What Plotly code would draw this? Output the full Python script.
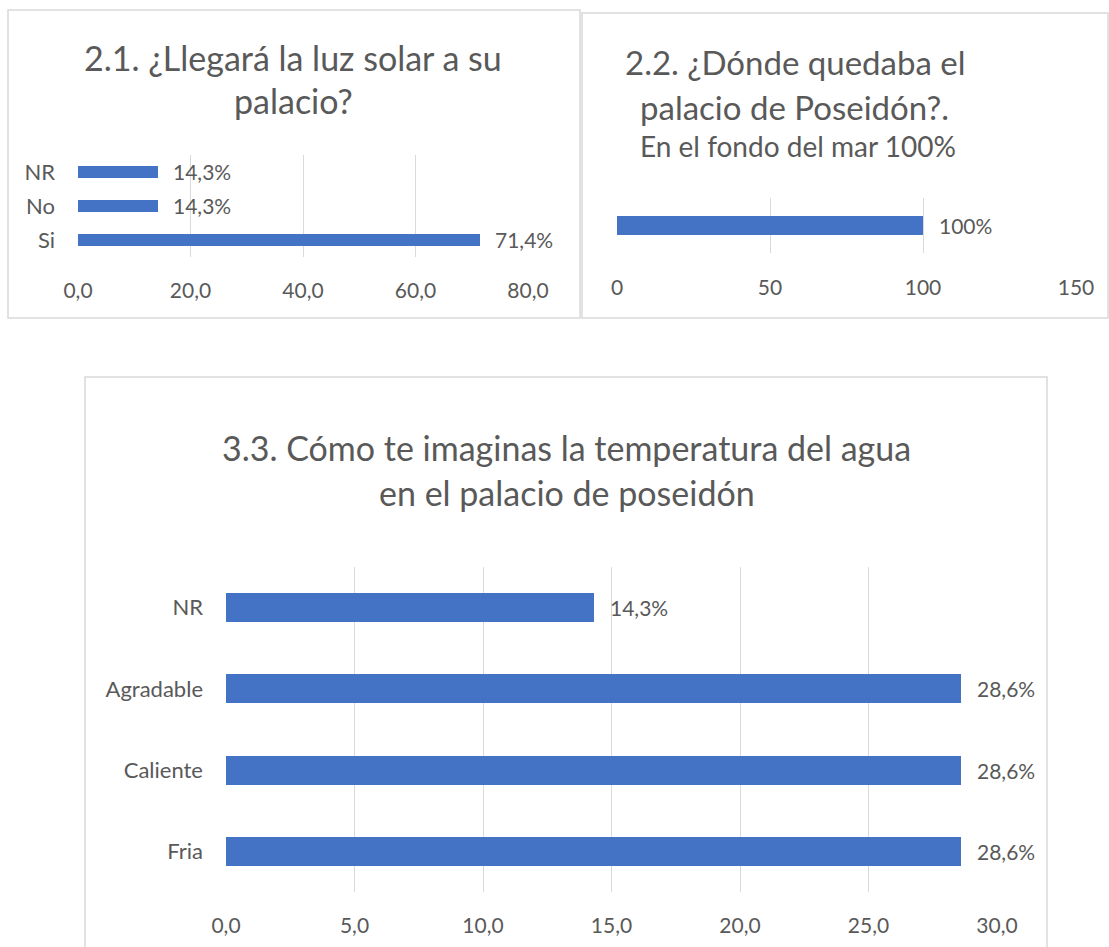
import plotly.graph_objects as go

# ---- data ----
cats1 = ["Si", "No", "NR"]
vals1 = [71.4, 14.3, 14.3]
ticks1 = [0, 20, 40, 60, 80]

cats2 = [""]
vals2 = [100]
ticks2 = [0, 50, 100, 150]

cats3 = ["Fria", "Caliente", "Agradable", "NR"]
vals3 = [28.6, 28.6, 28.6, 14.3]
ticks3 = [0, 5, 10, 15, 20, 25, 30]

W, H = 1109, 947
FONT = "Lato"
TXT = "#595959"
BAR = "#4472C4"
GRID = "#d9d9d9"


def px(x):
    return x / W


def py(y):
    return 1 - y / H


def lab(v):
    return (f"{v:.1f}".replace(".", ",") + "%") if v != int(v) else f"{int(v)}%"


fig = go.Figure()

fig.add_trace(go.Bar(x=vals1, y=cats1, orientation="h", marker_color=BAR, width=0.35,
                     xaxis="x", yaxis="y", hoverinfo="x+y"))
fig.add_trace(go.Bar(x=vals2, y=cats2, orientation="h", marker_color=BAR, width=0.36,
                     xaxis="x2", yaxis="y2", hoverinfo="x"))
fig.add_trace(go.Bar(x=vals3, y=cats3, orientation="h", marker_color=BAR, width=0.357,
                     xaxis="x3", yaxis="y3", hoverinfo="x+y"))

ax_common = dict(showgrid=True, gridcolor=GRID, gridwidth=1.3, zeroline=False, showline=False,
                 automargin=False, ticks="",
                 tickfont=dict(family=FONT, size=21, color=TXT), fixedrange=True)
ay_common = dict(showgrid=False, zeroline=False, showline=False, ticks="", automargin=False,
                 tickfont=dict(family=FONT, size=22, color=TXT), fixedrange=True)

fig.update_layout(
    template="none",
    width=W, height=H, margin=dict(l=0, r=0, t=0, b=0, pad=0), autosize=False,
    paper_bgcolor="white", plot_bgcolor="white", showlegend=False,
    separators=",.", bargap=0,
    font=dict(family=FONT, color=TXT),
    xaxis=dict(domain=[px(78), px(528)], range=[0, 80], tickvals=ticks1, tickformat=".1f",
               anchor="y", ticklabelstandoff=19, **ax_common),
    yaxis=dict(domain=[py(257), py(155)], range=[-0.5, 2.5], anchor="x",
               ticklabelstandoff=22, **ay_common),
    xaxis2=dict(domain=[px(617), px(1076)], range=[0, 150], tickvals=ticks2, tickformat="d",
                anchor="y2", ticklabelstandoff=20, **ax_common),
    yaxis2=dict(domain=[py(253), py(198)], range=[-0.5, 0.5], anchor="x2",
                showticklabels=False, **ay_common),
    xaxis3=dict(domain=[px(226), px(997)], range=[0, 30], tickvals=ticks3, tickformat=".1f",
                anchor="y3", ticklabelstandoff=19, **ax_common),
    yaxis3=dict(domain=[py(892), py(567)], range=[-0.5, 3.5], anchor="x3",
                ticklabelstandoff=22, **ay_common),
)

anns = []
for c, v in zip(cats1, vals1):
    anns.append(dict(x=v, y=c, xref="x", yref="y", text=lab(v), showarrow=False,
                     xanchor="left", xshift=13, font=dict(family=FONT, size=21, color=TXT)))
for c, v in zip(cats2, vals2):
    anns.append(dict(x=v, y=c, xref="x2", yref="y2", text=lab(v), showarrow=False,
                     xanchor="left", xshift=14, font=dict(family=FONT, size=21, color=TXT)))
for c, v in zip(cats3, vals3):
    anns.append(dict(x=v, y=c, xref="x3", yref="y3", text=lab(v), showarrow=False,
                     xanchor="left", xshift=14, font=dict(family=FONT, size=21, color=TXT)))

titles = [
    ("2.1. ¿Llegará la luz solar a su", 293, 57, 34),
    ("palacio?", 293, 100, 34),
    ("2.2. ¿Dónde quedaba el", 795, 62, 33),
    ("palacio de Poseidón?.", 794, 107, 33),
    ("En el fondo del mar 100%", 798, 146, 28),
    ("3.3. Cómo te imaginas la temperatura del agua", 566, 447, 34),
    ("en el palacio de poseidón", 567, 492, 34),
]
for t, x, y, s in titles:
    anns.append(dict(x=px(x), y=py(y), xref="paper", yref="paper", text=t, showarrow=False,
                     xanchor="center", yanchor="middle", font=dict(family=FONT, size=s, color=TXT)))

fig.update_layout(annotations=anns)

boxes = [(8, 10, 580, 318), (582, 13, 1108, 318), (85, 377, 1047, 960)]
for x0, y0, x1, y1 in boxes:
    fig.add_shape(type="rect", xref="paper", yref="paper", x0=px(x0), x1=px(x1),
                  y0=py(y1), y1=py(y0), line=dict(color=GRID, width=1.5), layer="below")

fig.write_html("out.html", config={"displayModeBar": False},
               post_script="document.body.style.margin='0';document.body.style.overflow='hidden';")
